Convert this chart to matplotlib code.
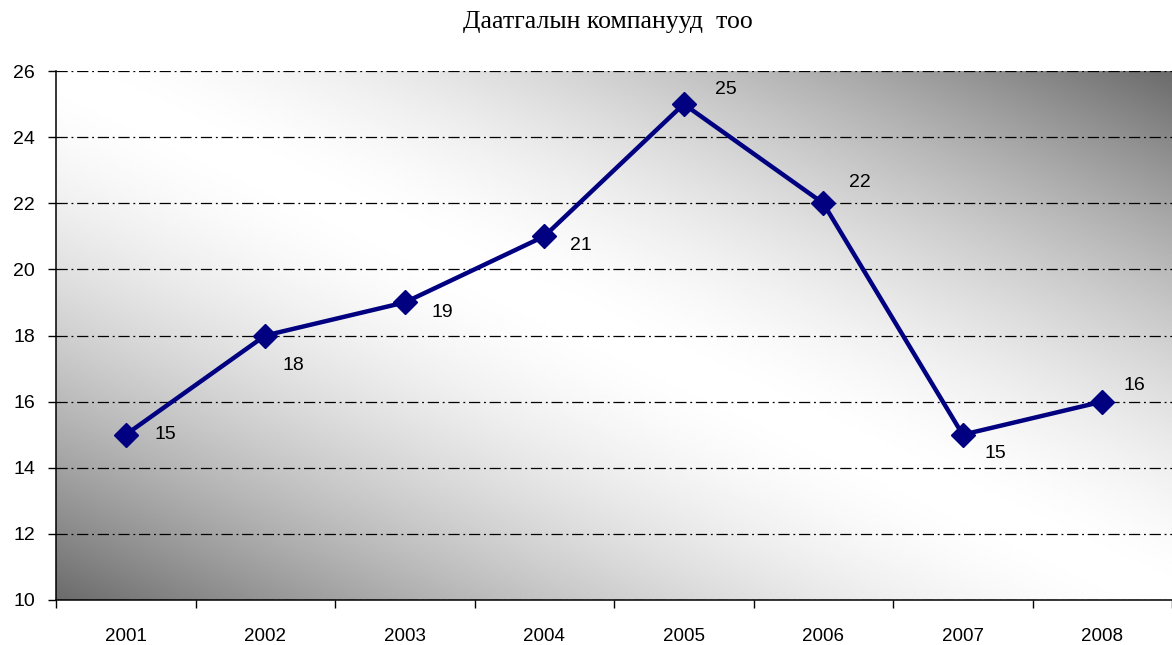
import numpy as np
import matplotlib
matplotlib.use('Agg')
import matplotlib.pyplot as plt

years  = ['2001', '2002', '2003', '2004', '2005', '2006', '2007', '2008']
counts = [15, 18, 19, 21, 25, 22, 15, 16]
title  = 'Даатгалын компанууд  тоо'

# label offsets (pixels at dpi 100) to mimic the original placement
offs = [(40, 0), (28, -30), (38, -10), (37, -9), (42, 15), (37, 21), (33, -19), (32, 16)]

plt.rcParams['font.family'] = ['Liberation Sans', 'DejaVu Sans']
fig = plt.figure(figsize=(11.72, 6.45), dpi=100)
ax = fig.add_axes([56/1172, 1-600/645, 1-56/1172, (600-71)/645])

# diagonal gradient background: white along top-left -> bottom-right diagonal
u, v = np.meshgrid(np.linspace(0, 1, 400), np.linspace(1, 0, 300))
d = np.abs(u + v - 1)
bright = np.clip(1 - 0.58*d**1.6, 0, 1)
ax.imshow(bright, cmap='gray', vmin=0, vmax=1, extent=[0, 1, 0, 1],
          transform=ax.transAxes, aspect='auto', zorder=0, interpolation='bilinear')

x = np.arange(1, len(years)+1)
ax.set_xlim(0.5, 0.5 + (1172-56)/140.6)
ax.set_ylim(10, 26)
ax.set_yticks(np.arange(10, 27, 2))
ax.grid(axis='y', color='black', lw=0.9, linestyle=(0, (9, 3, 1.5, 3)), zorder=1)
ax.set_axisbelow(False)

ax.plot(x, counts, color='#000080', lw=3.2, marker='D', markersize=12, zorder=3)
for xi, yi, (dx, dy) in zip(x, counts, offs):
    ax.annotate(str(yi), (xi, yi), xytext=(dx*0.72, dy*0.72), textcoords='offset points',
                ha='center', va='center', fontsize=14, zorder=4)

ax.set_xticks(np.arange(0.5, len(years)+1, 1))
ax.set_xticklabels([])
ax.set_xticks(x, minor=True)
ax.set_xticklabels(years, minor=True, fontsize=13.5)
ax.tick_params(axis='x', which='major', direction='out', length=6, width=1)
ax.tick_params(axis='x', which='minor', length=0, pad=20)
ax.tick_params(axis='y', direction='out', length=6, width=1, labelsize=14, pad=9)

for s in ['top', 'right']:
    ax.spines[s].set_visible(False)
for s in ['left', 'bottom']:
    ax.spines[s].set_linewidth(1.1)
    ax.spines[s].set_zorder(5)

fig.text(608/1172, 1-22/645, title, ha='center', va='center', fontsize=18.5,
         family=['Liberation Serif', 'DejaVu Serif'])

plt.savefig('out.png', dpi=100)
